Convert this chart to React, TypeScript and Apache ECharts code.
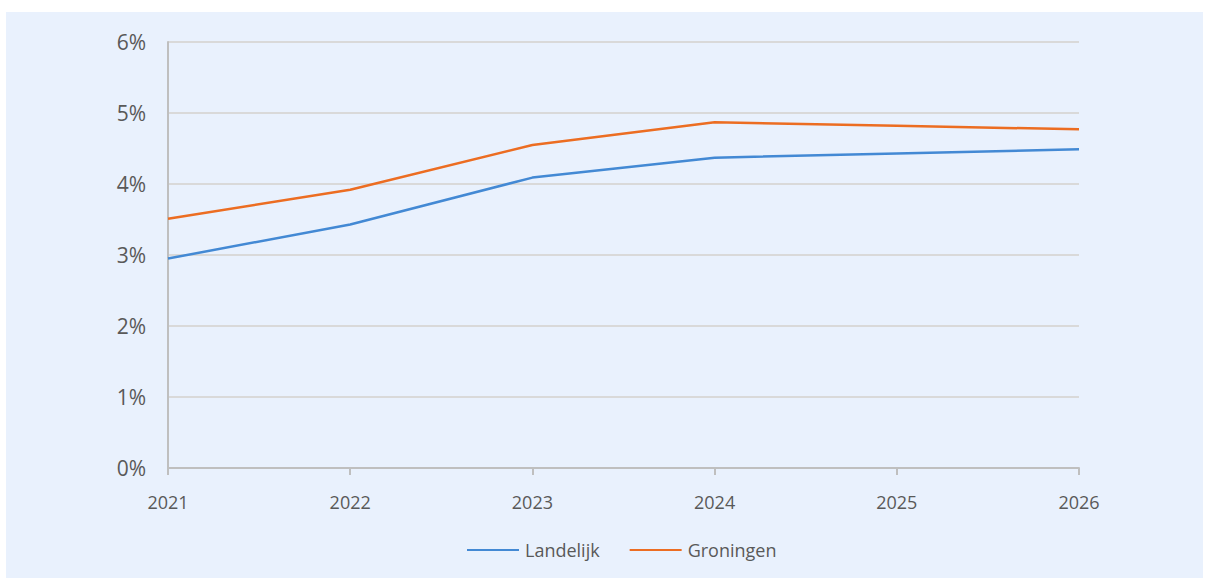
import React, { useEffect, useRef } from "react";
import * as echarts from "echarts";

const years = ["2021", "2022", "2023", "2024", "2025", "2026"];
const landelijk = [2.95, 3.43, 4.09, 4.37, 4.43, 4.49];
const groningen = [3.51, 3.92, 4.55, 4.87, 4.82, 4.77];
const seriesNames = ["Landelijk", "Groningen"];

export default function App() {
  const ref = useRef<HTMLDivElement>(null);
  useEffect(() => {
    if (!ref.current) return;
    const chart = echarts.init(ref.current, null, { renderer: "svg" });
    const font = "'Open Sans', 'Noto Sans', sans-serif";
    chart.setOption({
      animation: false,
      graphic: [
        {
          type: "rect",
          z: -10,
          silent: true,
          shape: { x: 6, y: 12, width: 1197, height: 566 },
          style: { fill: "#E9F1FD" },
        },
      ],
      grid: { left: 168, right: 132, top: 42, bottom: 110, containLabel: false },
      xAxis: {
        type: "category",
        data: years,
        boundaryGap: false,
        axisLine: { show: true, lineStyle: { color: "#BFBFBF", width: 2 } },
        axisTick: { show: true, length: 7, lineStyle: { color: "#BFBFBF", width: 2 } },
        axisLabel: { color: "#595959", fontSize: 18, fontFamily: font, margin: 25 },
        splitLine: { show: false },
      },
      yAxis: {
        type: "value",
        min: 0,
        max: 6,
        interval: 1,
        axisLine: { show: true, lineStyle: { color: "#BFBFBF", width: 2 } },
        axisTick: { show: false },
        axisLabel: {
          color: "#595959",
          fontSize: 21,
          fontFamily: font,
          margin: 22,
          formatter: (v: number) => `${v}%`,
        },
        splitLine: { show: true, lineStyle: { color: "#D9D9D9", width: 2 } },
      },
      legend: {
        bottom: 14,
        left: 462,
        itemWidth: 52,
        itemHeight: 2,
        itemGap: 30,
        icon: "rect",
        textStyle: { color: "#595959", fontSize: 18, fontFamily: font, padding: [0, 0, 0, 1] },
        data: seriesNames,
      },
      series: [
        {
          name: seriesNames[0],
          type: "line",
          data: landelijk,
          symbol: "none",
          lineStyle: { color: "#4389D4", width: 2.5 },
          itemStyle: { color: "#4389D4" },
        },
        {
          name: seriesNames[1],
          type: "line",
          data: groningen,
          symbol: "none",
          lineStyle: { color: "#EC6D22", width: 2.5 },
          itemStyle: { color: "#EC6D22" },
        },
      ],
    });
    return () => chart.dispose();
  }, []);
  return (
    <div
      ref={ref}
      style={{ position: "absolute", left: 0, top: 0, width: 1211, height: 578 }}
    />
  );
}
